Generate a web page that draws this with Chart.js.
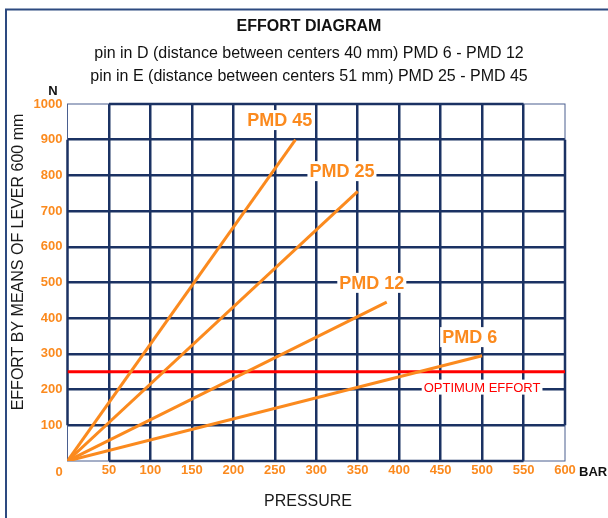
<!DOCTYPE html>
<html>
<head>
<meta charset="utf-8">
<script src="https://cdn.jsdelivr.net/npm/chart.js@4/dist/chart.umd.min.js"></script>
<style>
  html, body { margin: 0; padding: 0; background: #fff; }
  #wrap { width: 608px; height: 518px; }
</style>
</head>
<body>
<div id="wrap"><canvas id="effortChart" width="608" height="518"></canvas></div>
<script>
// pressure (bar) vs effort (N) - each line starts at the origin
const pressure45 = [0, 275];
const effort45 = [0, 900];
const pressure25 = [0, 350];
const effort25 = [0, 755];
const pressure12 = [0, 385];
const effort12 = [0, 445];
const pressure6 = [0, 500];
const effort6 = [0, 295];
const optimumPressure = [0, 600];
const optimumEffort = [250, 250];

const seriesNames = ['PMD 45', 'PMD 25', 'PMD 12', 'PMD 6'];
// where the series names sit, in chart units (pressure, effort)
const nameX = [256, 331, 367, 485];
const nameY = [955, 812, 499, 347];

const ORANGE = '#fb8a1e';
const NAVY = '#1b3263';
const FONT = "'Liberation Sans', Arial, sans-serif";

function pts(xs, ys) {
    return xs.map((x, i) => ({ x: x, y: ys[i] }));
}

const lineStyle = { borderColor: ORANGE, borderWidth: 3, pointRadius: 0, tension: 0 };

const data = {
    datasets: [
        { label: 'PMD 45', data: pts(pressure45, effort45), ...lineStyle },
        { label: 'PMD 25', data: pts(pressure25, effort25), ...lineStyle },
        { label: 'PMD 12', data: pts(pressure12, effort12), ...lineStyle },
        { label: 'PMD 6', data: pts(pressure6, effort6), ...lineStyle },
        { label: 'OPTIMUM EFFORT', data: pts(optimumPressure, optimumEffort),
          borderColor: '#ff0000', borderWidth: 3, pointRadius: 0 }
    ]
};

// frame, corner cells and extra texts
const extras = {
    id: 'extras',
    beforeDraw(chart) {
        const c = chart.ctx;
        c.save();
        c.strokeStyle = '#2d4a80';
        c.lineWidth = 2;
        c.beginPath();
        c.moveTo(6, 518);
        c.lineTo(6, 9.5);
        c.lineTo(608, 9.5);
        c.stroke();
        c.restore();
    },
    beforeDatasetsDraw(chart) {
        const c = chart.ctx;
        const x = chart.scales.x, y = chart.scales.y;
        const a = chart.chartArea;
        c.save();
        c.strokeStyle = '#4a5f8f';
        c.lineWidth = 1;
        c.strokeRect(a.left, a.top, a.right - a.left, a.bottom - a.top);
        c.strokeStyle = NAVY;
        c.lineWidth = 2.5;
        c.beginPath();
        [0, 600].forEach(v => {
            c.moveTo(x.getPixelForValue(v), y.getPixelForValue(100));
            c.lineTo(x.getPixelForValue(v), y.getPixelForValue(900));
        });
        [0, 1000].forEach(v => {
            c.moveTo(x.getPixelForValue(50), y.getPixelForValue(v));
            c.lineTo(x.getPixelForValue(550), y.getPixelForValue(v));
        });
        c.stroke();
        c.restore();
    },
    afterDatasetsDraw(chart) {
        const c = chart.ctx;
        const x = chart.scales.x, y = chart.scales.y;
        c.save();
        c.textAlign = 'center';
        c.textBaseline = 'middle';

        function boxed(text, px, py, font, color, h) {
            c.font = font;
            const w = c.measureText(text).width;
            c.fillStyle = '#fff';
            c.fillRect(px - w / 2 - 2, py - h / 2, w + 4, h);
            c.fillStyle = color;
            c.fillText(text, px, py + 1);
        }

        seriesNames.forEach((n, i) => {
            boxed(n, x.getPixelForValue(nameX[i]), y.getPixelForValue(nameY[i]),
                  'bold 18px ' + FONT, ORANGE, 20);
        });
        boxed('OPTIMUM EFFORT', x.getPixelForValue(500), y.getPixelForValue(207),
              '13px ' + FONT, '#ff0000', 15);

        c.fillStyle = '#111';
        c.font = 'bold 13px ' + FONT;
        c.fillText('N', 53, 91);
        c.textAlign = 'left';
        c.fillText('BAR', 579, 472);
        c.textAlign = 'center';
        c.fillStyle = ORANGE;
        c.fillText('0', 59, 472);

        c.fillStyle = '#1a1a1a';
        c.font = '16px ' + FONT;
        c.fillText('PRESSURE', 308, 502);
        c.translate(19, 262);
        c.rotate(-Math.PI / 2);
        c.fillText('EFFORT BY MEANS OF LEVER 600 mm', 0, 0);
        c.restore();
    }
};

function gridColor(ctx, last) {
    return (ctx.tick && (ctx.tick.value === 0 || ctx.tick.value === last)) ? 'rgba(0,0,0,0)' : NAVY;
}

const config = {
    type: 'line',
    data: data,
    options: {
        responsive: false,
        animation: false,
        layout: { padding: { left: 10, right: 0, top: 0, bottom: 0 } },
        scales: {
            x: {
                type: 'linear',
                min: 0,
                max: 600,
                afterFit: s => { s.height = 57; },
                border: { display: false },
                grid: { color: ctx => gridColor(ctx, 600), lineWidth: 2.5, drawTicks: false },
                ticks: {
                    stepSize: 50,
                    padding: 2,
                    color: ORANGE,
                    font: { family: FONT, size: 13, weight: 'bold' },
                    callback: v => v === 0 ? '' : v
                }
            },
            y: {
                min: 0,
                max: 1000,
                afterFit: s => { s.width = 57.5; },
                border: { display: false },
                grid: { color: ctx => gridColor(ctx, 1000), lineWidth: 2.5, drawTicks: false },
                ticks: {
                    stepSize: 100,
                    padding: 5,
                    color: ORANGE,
                    font: { family: FONT, size: 13, weight: 'bold' },
                    callback: v => v === 0 ? '' : v
                }
            },
            // empty right axis, only keeps room for the "BAR" unit
            spacer: {
                position: 'right',
                min: 0,
                max: 1,
                afterFit: s => { s.width = 43; },
                border: { display: false },
                grid: { drawOnChartArea: false, drawTicks: false },
                ticks: { display: false }
            }
        },
        plugins: {
            legend: { display: false },
            tooltip: { enabled: false },
            title: {
                display: true,
                text: 'EFFORT DIAGRAM',
                color: '#111',
                font: { family: FONT, size: 16, weight: 'bold', lineHeight: 1.2 },
                padding: { top: 17.4, bottom: 0 }
            },
            subtitle: {
                display: true,
                text: ['pin in D (distance between centers 40 mm) PMD 6 - PMD 12',
                       'pin in E (distance between centers 51 mm) PMD 25 - PMD 45'],
                color: '#111',
                font: { family: FONT, size: 16, lineHeight: 23 / 16 },
                padding: { top: 5.9, bottom: 15.5 }
            }
        }
    },
    plugins: [extras]
};

// Render the chart
const effortChart = new Chart(document.getElementById('effortChart'), config);
</script>
</body>
</html>
